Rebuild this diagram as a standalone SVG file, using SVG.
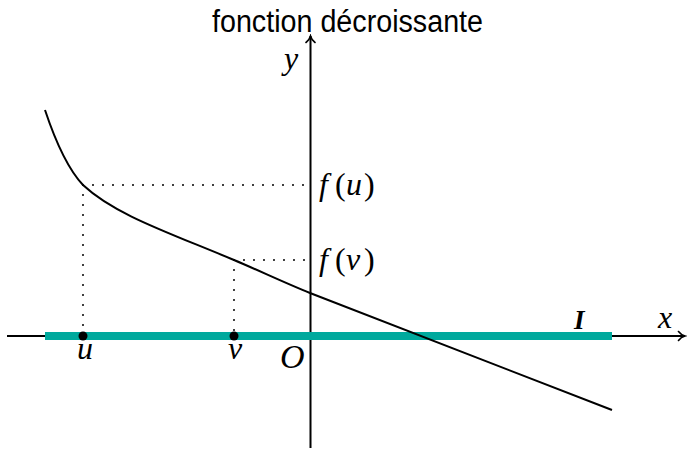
<svg xmlns="http://www.w3.org/2000/svg" width="687" height="449" viewBox="0 0 687 449">
<defs>
<style>
.axis{stroke:#000;stroke-width:2;fill:none}
.curve{stroke:#000;stroke-width:2;fill:none}
.dot{stroke:#000;stroke-width:2;stroke-linecap:round;stroke-dasharray:0 10;fill:none}
.band{stroke:#00a99d;stroke-width:8;fill:none}
.pt{fill:#000}
.math{font-family:"Liberation Serif","Times New Roman",serif;font-style:italic;font-size:32px;fill:#000}
.up{font-style:normal}
.title{font-family:"Liberation Sans",Arial,sans-serif;font-size:31px;fill:#000}
</style>
<marker id="arr" viewBox="-8 -6 10 12" markerWidth="10" markerHeight="12" refX="0" refY="0" orient="auto" markerUnits="userSpaceOnUse">
<path d="M-6.5,-4.5 C-4.5,-1.8 -1.8,-0.5 0,0 C-1.8,0.5 -4.5,1.8 -6.5,4.5" stroke="#000" stroke-width="1.6" fill="none" stroke-linecap="round"/>
</marker>
</defs>
<rect width="687" height="449" fill="#fff"/>
<g id="title"><text class="title" x="212" y="32" textLength="271" lengthAdjust="spacingAndGlyphs">fonction décroissante</text></g>
<g id="connectors">
<line id="x-axis" class="axis" x1="7" y1="336" x2="685" y2="336" marker-end="url(#arr)"/>
<line id="y-axis" class="axis" x1="310.5" y1="448" x2="310.5" y2="36" marker-end="url(#arr)"/>
<line class="dot" x1="83" y1="185" x2="305" y2="185"/>
<line class="dot" x1="83" y1="185" x2="83" y2="336"/>
<line class="dot" x1="234" y1="260" x2="305" y2="260"/>
<line class="dot" x1="234" y1="260" x2="234" y2="336"/>
</g>
<g id="interval"><line class="band" x1="45" y1="336" x2="612" y2="336"/></g>
<g id="curve"><path class="curve" d="M45,110 C55,140 67,168 83,185 C115,215 170,233 234,260 C260,271 285,283 310,293 L612,410"/></g>
<g id="point-u"><circle class="pt" cx="83" cy="336" r="4.5"/><text class="math" x="85" y="359" text-anchor="middle">u</text></g>
<g id="point-v"><circle class="pt" cx="234" cy="336" r="4.5"/><text class="math" x="235" y="359" text-anchor="middle">v</text></g>
<g id="label-O"><text class="math" x="280" y="368" style="font-size:34px">O</text></g>
<g id="label-y"><text class="math" x="284" y="69">y</text></g>
<g id="label-x"><text class="math" x="658" y="328">x</text></g>
<g id="label-I"><text class="math" x="574" y="329" style="font-weight:bold;font-size:27px">I</text></g>
<g id="label-fu"><text class="math" y="195"><tspan x="319">f</tspan><tspan class="up" x="335">(</tspan><tspan x="346">u</tspan><tspan class="up" x="364">)</tspan></text></g>
<g id="label-fv"><text class="math" y="270"><tspan x="319">f</tspan><tspan class="up" x="335">(</tspan><tspan x="346">v</tspan><tspan class="up" x="364">)</tspan></text></g>
</svg>
